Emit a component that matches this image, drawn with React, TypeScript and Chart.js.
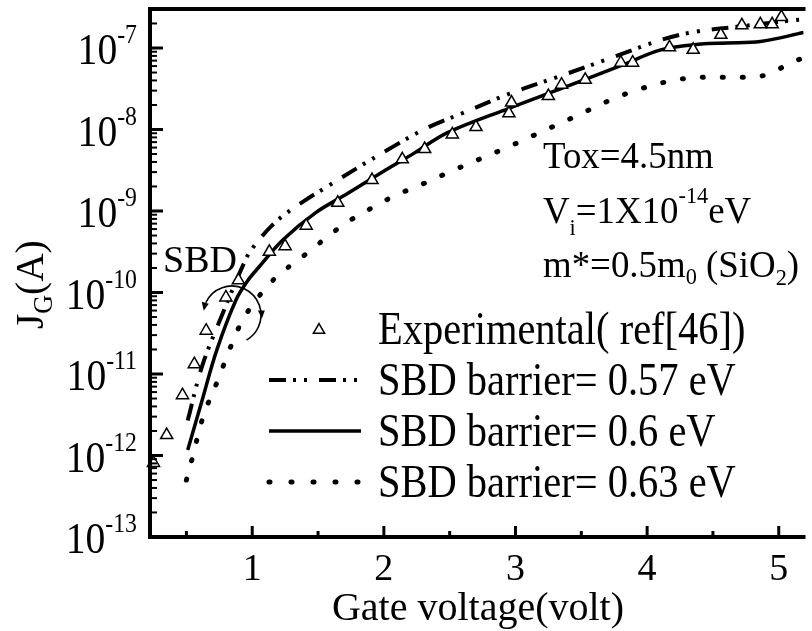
import React, { useEffect, useRef } from "react";
import { Chart, registerables } from "chart.js";

Chart.register(...registerables);

const FONT = '"Liberation Serif", "Times New Roman", Times, serif';

// ---------------- data ----------------
// Experimental (ref[46])
const expVoltage = [0.25, 0.35, 0.47, 0.56, 0.65, 0.8, 0.895, 1.13, 1.25, 1.41, 1.65, 1.91, 2.14, 2.31, 2.52, 2.7, 2.95, 2.97, 3.25, 3.35, 3.53, 3.8, 3.89, 4.17, 4.35, 4.56, 4.72, 4.86, 4.95, 5.02];
const expCurrent = [8.1e-13, 1.78e-12, 5.5e-12, 1.32e-11, 3.4e-11, 8.7e-11, 1.41e-10, 3.16e-10, 3.7e-10, 6.6e-10, 1.26e-9, 2.4e-9, 4.3e-9, 5.75e-9, 8.7e-9, 1.07e-8, 1.58e-8, 2.14e-8, 2.57e-8, 3.55e-8, 4.07e-8, 6.6e-8, 6.6e-8, 1.02e-7, 9.5e-8, 1.45e-7, 1.9e-7, 1.95e-7, 1.95e-7, 2.4e-7];

// SBD barrier = 0.57 eV
const v057 = [0.51, 0.62, 0.77, 0.94, 1.0, 1.18, 1.41, 1.56, 1.8, 2.08, 2.33, 2.61, 2.955, 3.33, 3.71, 4.11, 4.36, 4.68, 5.11, 5.19];
const j057 = [2.69e-12, 1.26e-11, 5.25e-11, 2.34e-10, 3.47e-10, 7.4e-10, 1.38e-9, 1.95e-9, 3.39e-9, 6.3e-9, 1.05e-8, 1.62e-8, 2.75e-8, 4.47e-8, 7.4e-8, 1.26e-7, 1.58e-7, 1.82e-7, 2.19e-7, 2.24e-7];

// SBD barrier = 0.6 eV
const v060 = [0.51, 0.62, 0.73, 0.88, 0.977, 1.05, 1.23, 1.48, 1.73, 1.98, 2.23, 2.48, 2.95, 3.36, 3.81, 4.11, 4.41, 4.61, 4.86, 5.19];
const j060 = [1.17e-12, 4.8e-12, 1.95e-11, 8.3e-11, 1.48e-10, 2.04e-10, 4.37e-10, 9.5e-10, 1.66e-9, 2.95e-9, 5.13e-9, 9.1e-9, 1.82e-8, 3.24e-8, 6.17e-8, 9.55e-8, 1.12e-7, 1.15e-7, 1.2e-7, 1.55e-7];

// SBD barrier = 0.63 eV
const v063 = [0.5, 0.54, 0.62, 0.74, 0.85, 0.92, 1.14, 1.29, 1.44, 1.59, 1.74, 1.89, 2.05, 2.2, 2.35, 2.5, 2.95, 3.4, 3.86, 4.31, 4.47, 4.79, 4.94, 5.09, 5.19];
const j063 = [5.0e-13, 8.7e-13, 2.75e-12, 8.5e-12, 2.45e-11, 4.37e-11, 1.32e-10, 2.14e-10, 3.24e-10, 5.13e-10, 7.6e-10, 1.05e-9, 1.45e-9, 1.86e-9, 2.34e-9, 3.02e-9, 6.17e-9, 1.32e-8, 2.82e-8, 4.27e-8, 4.37e-8, 4.37e-8, 4.9e-8, 6.6e-8, 7.6e-8];

const seriesLabels = ["Experimental( ref[46])", "SBD barrier= 0.57 eV", "SBD barrier= 0.6 eV", "SBD barrier= 0.63 eV"];

// axes
const xMajorTicks = [1, 2, 3, 4, 5];
const xMinorTicks = [0.5, 1.5, 2.5, 3.5, 4.5];
const yDecades = [-13, -12, -11, -10, -9, -8, -7];
const X_MIN = 0.2234;
const X_MAX = 5.188;
const Y_MIN = 1e-13;
const Y_MAX = 3.01e-7;
const xTitle = "Gate voltage(volt)";

// annotation text
const noteLines = [
  [{ t: "Tox=4.5nm" }],
  [{ t: "V" }, { t: "i", small: true, dy: 12 }, { t: "=1X10" }, { t: "-14", small: true, dy: -20 }, { t: "eV" }],
  [{ t: "m*=0.5m" }, { t: "0", small: true, dy: 7 }, { t: " (SiO" }, { t: "2", small: true, dy: 8 }, { t: ")" }],
];

// ---------------- styles ----------------
const DASH_057 = [17, 7, 3, 8, 3, 12];
const DOT_063 = [1, 19];
const DOT_LEGEND = [1, 21];

type Part = { t: string; size: number; dy?: number };

function drawParts(ctx: CanvasRenderingContext2D, parts: Part[], x: number, y: number, sx: number, align: "left" | "right" | "center") {
  ctx.save();
  ctx.textBaseline = "alphabetic";
  ctx.textAlign = "left";
  let total = 0;
  const widths: number[] = [];
  for (const p of parts) {
    ctx.font = `${p.size}px ${FONT}`;
    const w = ctx.measureText(p.t).width * sx;
    widths.push(w);
    total += w;
  }
  let cx = align === "right" ? x - total : align === "center" ? x - total / 2 : x;
  parts.forEach((p, i) => {
    ctx.font = `${p.size}px ${FONT}`;
    ctx.save();
    ctx.translate(cx, y + (p.dy || 0));
    ctx.scale(sx, 1);
    ctx.fillText(p.t, 0, 0);
    ctx.restore();
    cx += widths[i];
  });
  ctx.restore();
}

function triangle(ctx: CanvasRenderingContext2D, x: number, y: number, r: number) {
  ctx.beginPath();
  ctx.moveTo(x, y - r);
  ctx.lineTo(x + r * 0.866, y + r / 2);
  ctx.lineTo(x - r * 0.866, y + r / 2);
  ctx.closePath();
  ctx.fillStyle = "#fff";
  ctx.fill();
  ctx.stroke();
}

const paperPlugin = {
  id: "paper",
  beforeDraw(chart: any) {
    const { ctx, width, height } = chart;
    ctx.save();
    ctx.fillStyle = "#fff";
    ctx.fillRect(0, 0, width, height);
    ctx.restore();
  },
  afterDraw(chart: any) {
    const ctx: CanvasRenderingContext2D = chart.ctx;
    const ca = chart.chartArea;
    const xs = chart.scales.x;
    const ys = chart.scales.y;
    ctx.save();
    ctx.fillStyle = "#000";
    ctx.strokeStyle = "#000";
    ctx.setLineDash([]);
    ctx.lineCap = "butt";

    // frame
    ctx.lineWidth = 4;
    ctx.beginPath();
    ctx.moveTo(ca.left - 2, ca.top);
    ctx.lineTo(ca.right + 2, ca.top);
    ctx.moveTo(ca.left, ca.top - 2);
    ctx.lineTo(ca.left, ca.bottom + 2);
    ctx.moveTo(ca.left - 2, ca.bottom);
    ctx.lineTo(ca.right + 2, ca.bottom);
    ctx.stroke();

    // y ticks (inward)
    for (const e of yDecades) {
      for (let m = 1; m <= 9; m++) {
        const v = m * Math.pow(10, e);
        if (v > Y_MAX) break;
        const py = ys.getPixelForValue(v);
        const major = m === 1;
        ctx.lineWidth = major ? 3 : 2;
        ctx.beginPath();
        ctx.moveTo(ca.left, py);
        ctx.lineTo(ca.left + (major ? 13 : 7), py);
        ctx.stroke();
      }
    }
    // x ticks (inward)
    ctx.lineWidth = 3;
    for (const v of xMajorTicks) {
      const px = xs.getPixelForValue(v);
      ctx.beginPath();
      ctx.moveTo(px, ca.bottom);
      ctx.lineTo(px, ca.bottom - 11);
      ctx.stroke();
    }
    for (const v of xMinorTicks) {
      const px = xs.getPixelForValue(v);
      ctx.beginPath();
      ctx.moveTo(px, ca.bottom);
      ctx.lineTo(px, ca.bottom - 6);
      ctx.stroke();
    }

    // y tick labels
    for (const e of yDecades) {
      const py = ys.getPixelForValue(Math.pow(10, e));
      drawParts(ctx, [{ t: "10", size: 45 }, { t: String(e), size: 27, dy: -21 }], ca.left - 13, py + 16, 0.88, "right");
    }
    // x tick labels
    for (const v of xMajorTicks) {
      const px = xs.getPixelForValue(v);
      drawParts(ctx, [{ t: String(v), size: 38 }], px, ca.bottom + 43, 1, "center");
    }
    // x title
    drawParts(ctx, [{ t: xTitle, size: 40 }], 478, 620, 1, "center");
    // y title (rotated)
    ctx.save();
    ctx.translate(43, 329);
    ctx.rotate(-Math.PI / 2);
    drawParts(ctx, [{ t: "J", size: 41 }, { t: "G", size: 27, dy: 9 }, { t: "(A)", size: 41 }], 0, 0, 0.96, "left");
    ctx.restore();

    // annotation block
    const noteBase = [168, 223, 277];
    noteLines.forEach((line, i) => {
      drawParts(
        ctx,
        line.map((p: any) => ({ t: p.t, size: p.small ? 23 : 38, dy: p.dy || 0 })),
        543,
        noteBase[i],
        0.97,
        "left"
      );
    });

    // SBD label + arc
    drawParts(ctx, [{ t: "SBD", size: 38 }], 163, 272, 1, "left");
    ctx.lineWidth = 1.6;
    const cx = 232, cy = 315, r = 29;
    const a0 = (205 * Math.PI) / 180, a1 = (420 * Math.PI) / 180;
    ctx.beginPath();
    ctx.arc(cx, cy, r, a0, a1, false);
    ctx.stroke();
    // arrow head at start (pointing down-left along the arc)
    const sx0 = cx + r * Math.cos(a0), sy0 = cy + r * Math.sin(a0);
    ctx.beginPath();
    ctx.moveTo(sx0 - 2, sy0 + 8);
    ctx.lineTo(sx0 - 4, sy0 - 1);
    ctx.lineTo(sx0 + 3, sy0 + 1);
    ctx.closePath();
    ctx.fill();
    // small arrow on right side
    const am = (355 * Math.PI) / 180;
    const mx = cx + r * Math.cos(am), my = cy + r * Math.sin(am);
    ctx.beginPath();
    ctx.moveTo(mx + 1, my + 6);
    ctx.lineTo(mx - 3, my - 2);
    ctx.lineTo(mx + 4, my - 2);
    ctx.closePath();
    ctx.fill();

    // legend
    const rows = [329, 380, 431, 482];
    const tx = 378;
    ctx.lineWidth = 1.5;
    triangle(ctx, 319, rows[0] + 1, 6.5);
    ctx.fillStyle = "#000";
    ctx.strokeStyle = "#000";
    // 0.57
    ctx.lineWidth = 4;
    ctx.setLineDash(DASH_057);
    ctx.beginPath();
    ctx.moveTo(269, rows[1]);
    ctx.lineTo(359, rows[1]);
    ctx.stroke();
    // 0.6
    ctx.setLineDash([]);
    ctx.lineWidth = 3.5;
    ctx.beginPath();
    ctx.moveTo(269, rows[2]);
    ctx.lineTo(361, rows[2]);
    ctx.stroke();
    // 0.63
    ctx.lineWidth = 5;
    ctx.lineCap = "round";
    ctx.setLineDash(DOT_LEGEND);
    ctx.beginPath();
    ctx.moveTo(269, rows[3]);
    ctx.lineTo(360, rows[3]);
    ctx.stroke();
    ctx.setLineDash([]);
    ctx.lineCap = "butt";
    seriesLabels.forEach((lab, i) => {
      drawParts(ctx, [{ t: lab, size: 46 }], tx, rows[i] + 15, 0.88, "left");
    });

    ctx.restore();
  },
};

function pts(xs: number[], ys: number[]) {
  return xs.map((x, i) => ({ x, y: ys[i] }));
}

export default function App() {
  const ref = useRef<HTMLCanvasElement | null>(null);
  useEffect(() => {
    if (!ref.current) return;
    const chart = new Chart(ref.current, {
      type: "scatter",
      data: {
        datasets: [
          {
            label: seriesLabels[0],
            data: pts(expVoltage, expCurrent),
            showLine: false,
            pointStyle: "triangle",
            pointRadius: 7,
            borderColor: "#000",
            backgroundColor: "#fff",
            borderWidth: 1.5,
            clip: false as any,
          },
          {
            label: seriesLabels[1],
            data: pts(v057, j057),
            showLine: true,
            pointRadius: 0,
            borderColor: "#000",
            borderWidth: 4,
            borderDash: DASH_057,
            borderCapStyle: "butt",
            tension: 0.35,
            fill: false,
          },
          {
            label: seriesLabels[2],
            data: pts(v060, j060),
            showLine: true,
            pointRadius: 0,
            borderColor: "#000",
            borderWidth: 3.5,
            tension: 0.35,
            fill: false,
          },
          {
            label: seriesLabels[3],
            data: pts(v063, j063),
            showLine: true,
            pointRadius: 0,
            borderColor: "#000",
            borderWidth: 5,
            borderDash: DOT_063,
            borderCapStyle: "round",
            cubicInterpolationMode: "monotone",
            fill: false,
          },
        ],
      },
      options: {
        animation: false,
        responsive: false,
        maintainAspectRatio: false,
        devicePixelRatio: 1,
        layout: { padding: { left: 150, top: 9, right: 1, bottom: 94 } },
        scales: {
          x: { type: "linear", display: false, min: X_MIN, max: X_MAX },
          y: { type: "logarithmic", display: false, min: Y_MIN, max: Y_MAX },
        },
        plugins: { legend: { display: false }, tooltip: { enabled: false } },
      } as any,
      plugins: [paperPlugin],
    });
    return () => chart.destroy();
  }, []);
  return (
    <div style={{ position: "absolute", left: 0, top: 0, width: 812, height: 631, background: "#fff" }}>
      <canvas ref={ref} width={812} height={631} style={{ width: 812, height: 631, display: "block" }} />
    </div>
  );
}
